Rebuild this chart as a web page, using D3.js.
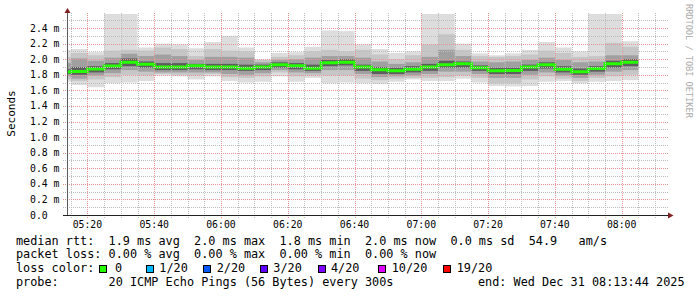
<!DOCTYPE html>
<html><head><meta charset="utf-8">
<script src="https://cdn.jsdelivr.net/npm/d3@7"></script>
<style>
html,body{margin:0;padding:0;background:#fff;}
svg{display:block;}
text{font-family:"DejaVu Sans Mono",monospace;white-space:pre;fill:#000;}
</style></head><body>
<svg id="c" width="697" height="297"></svg>
<script>
// ---- data (ms) ----
const stepEnds = ["05:15","05:20","05:25","05:30","05:35","05:40","05:45","05:50","05:55",
  "06:00","06:05","06:10","06:15","06:20","06:25","06:30","06:35","06:40","06:45","06:50","06:55",
  "07:00","07:05","07:10","07:15","07:20","07:25","07:30","07:35","07:40","07:45","07:50","07:55",
  "08:00","08:05"];
const pingMax = [2.12,2.13,2.09,2.70,2.70,2.15,2.20,2.19,2.14,2.22,2.30,2.15,2.00,2.08,2.09,2.16,2.37,2.36,2.19,2.13,2.08,2.10,2.70,2.70,2.20,2.075,2.05,2.075,2.12,2.22,2.15,2.10,2.70,2.70,2.23];
const pingHi2 = [2.03,2.08,2.05,2.11,2.12,2.11,2.15,2.13,2.04,2.13,2.11,2.10,1.99,2.03,2.05,2.10,2.12,2.10,2.12,2.06,2.00,2.05,2.19,2.32,2.12,2.04,2.03,2.04,2.06,2.11,2.08,2.03,2.04,2.21,2.16];
const pingHiQ = [1.95,2.01,1.98,2.02,2.07,2.04,2.06,2.04,1.99,2.03,2.03,2.02,1.96,1.99,2.00,2.02,2.04,2.04,2.02,1.97,1.94,1.96,2.03,2.12,2.04,1.97,1.96,1.97,1.99,2.02,1.99,1.96,1.97,2.05,2.05];
const pingHiC = [1.87,1.90,1.91,1.95,2.01,1.97,1.95,1.95,1.94,1.94,1.94,1.93,1.93,1.96,1.95,1.93,1.99,2.00,1.93,1.90,1.89,1.91,1.94,1.98,1.97,1.92,1.89,1.89,1.93,1.96,1.91,1.88,1.91,1.98,2.00];
const median  = [1.835,1.842,1.874,1.913,1.96,1.934,1.90,1.90,1.915,1.90,1.90,1.885,1.90,1.93,1.915,1.885,1.955,1.96,1.90,1.865,1.85,1.87,1.90,1.93,1.94,1.89,1.85,1.855,1.90,1.93,1.87,1.84,1.88,1.94,1.96];
const pingLoC = [1.81,1.80,1.83,1.87,1.91,1.89,1.86,1.86,1.87,1.86,1.86,1.85,1.86,1.89,1.87,1.85,1.91,1.92,1.85,1.81,1.81,1.83,1.85,1.89,1.89,1.85,1.81,1.81,1.85,1.88,1.83,1.80,1.84,1.89,1.91];
const pingLoQ = [1.78,1.75,1.79,1.82,1.86,1.84,1.83,1.83,1.83,1.83,1.81,1.80,1.82,1.86,1.83,1.82,1.86,1.86,1.81,1.77,1.78,1.79,1.81,1.84,1.84,1.81,1.76,1.76,1.80,1.83,1.79,1.76,1.80,1.84,1.86];
const pingLo2 = [1.74,1.72,1.74,1.77,1.80,1.79,1.81,1.80,1.79,1.81,1.77,1.76,1.78,1.83,1.78,1.79,1.79,1.79,1.75,1.73,1.75,1.76,1.76,1.77,1.79,1.76,1.69,1.69,1.74,1.78,1.75,1.72,1.76,1.78,1.80];
const pingMin = [1.71,1.668,1.64,1.69,1.70,1.72,1.79,1.78,1.74,1.78,1.72,1.70,1.71,1.78,1.71,1.76,1.69,1.70,1.69,1.68,1.71,1.74,1.72,1.72,1.75,1.70,1.655,1.65,1.655,1.71,1.72,1.69,1.71,1.72,1.73];
const lossCount = [0,0,0,0,0,0,0,0,0,0,0,0,0,0,0,0,0,0,0,0,0,0,0,0,0,0,0,0,0,0,0,0,0,0,0];

const yTickValues = [0,0.2,0.4,0.6,0.8,1.0,1.2,1.4,1.6,1.8,2.0,2.2,2.4];
const yTickLabels = ["0.0","0.2 m","0.4 m","0.6 m","0.8 m","1.0 m","1.2 m","1.4 m","1.6 m","1.8 m","2.0 m","2.2 m","2.4 m"];
const xTickLabels = ["05:20","05:40","06:00","06:20","06:40","07:00","07:20","07:40","08:00"];

const lossLevels = ["0","1/20","2/20","3/20","4/20","10/20","19/20"];
const lossColors = ["#26ff00","#00b8ff","#0059ff","#5e00ff","#7e00ff","#dd00ff","#ff0000"];
const lossThresh = [0,1,2,3,4,10,19];

const legendRtt  = "median rtt:  1.9 ms avg  2.0 ms max  1.8 ms min  2.0 ms now  0.0 ms sd  54.9   am/s";
const legendLoss = "packet loss: 0.00 % avg  0.00 % max  0.00 % min  0.00 % now";
const legendProbe = "probe:       20 ICMP Echo Pings (56 Bytes) every 300s";
const legendEnd = "end: Wed Dec 31 08:13:44 2025";
const dayStr = "2025-12-31";

// ---- layout ----
const svg = d3.select("#c");
const parse = d3.timeParse("%Y-%m-%d %H:%M:%S");
const t0 = parse(dayStr+" 05:13:44"), t1 = parse(dayStr+" 08:13:44");
const x = d3.scaleTime().domain([t0,t1]).range([66.5,667.5]);
const y = d3.scaleLinear().domain([0,2.58]).range([215,14]);
const ends = stepEnds.map(s=>parse(dayStr+" "+s+":00"));
const starts = ends.map(d=>d3.timeMinute.offset(d,-5));

svg.append("rect").attr("width",697).attr("height",297).attr("fill","#fff");
svg.append("clipPath").attr("id","plot").append("rect")
  .attr("x",67).attr("y",14).attr("width",601).attr("height",201);

const gData = svg.append("g").attr("clip-path","url(#plot)");
const bands = [
  {lo:pingMin, hi:pingMax, c:"#dddddd"},
  {lo:pingLo2, hi:pingHi2, c:"#c6c6c6"},
  {lo:pingLoQ, hi:pingHiQ, c:"#a0a0a0"},
  {lo:pingLoC, hi:pingHiC, c:"#5e5e5e"}
];
bands.forEach(b=>{
  gData.append("g").selectAll("rect").data(ends).join("rect")
    .attr("x",(d,i)=>x(starts[i]))
    .attr("width",(d,i)=>x(ends[i])-x(starts[i]))
    .attr("y",(d,i)=>y(b.hi[i]))
    .attr("height",(d,i)=>y(b.lo[i])-y(b.hi[i]))
    .attr("fill",b.c);
});

// ---- grid ----
const gGrid = svg.append("g");
const minorY = d3.range(1,26,2).map(v=>v/10);
gGrid.selectAll(".hm").data(minorY).join("line")
  .attr("x1",63).attr("x2",668).attr("y1",d=>Math.round(y(d))+0.5).attr("y2",d=>Math.round(y(d))+0.5)
  .attr("stroke","#bdbdbd").attr("stroke-dasharray","1,1");
const minorX = d3.timeMinute.every(5).range(t0,t1).filter(d=>d.getMinutes()%20!==0);
gGrid.selectAll(".vm").data(minorX).join("line")
  .attr("y1",13).attr("y2",218).attr("x1",d=>Math.round(x(d))+0.5).attr("x2",d=>Math.round(x(d))+0.5)
  .attr("stroke","#bdbdbd").attr("stroke-dasharray","1,1");
gGrid.selectAll(".hM").data(yTickValues.slice(1)).join("line")
  .attr("x1",63).attr("x2",668).attr("y1",d=>Math.round(y(d))+0.5).attr("y2",d=>Math.round(y(d))+0.5)
  .attr("stroke","#e69494").attr("stroke-dasharray","1,1");
const majorX = xTickLabels.map(s=>parse(dayStr+" "+s+":00"));
gGrid.selectAll(".vM").data(majorX).join("line")
  .attr("y1",13).attr("y2",218).attr("x1",d=>Math.round(x(d))+0.5).attr("x2",d=>Math.round(x(d))+0.5)
  .attr("stroke","#e69494").attr("stroke-dasharray","1,1");

// ---- median line ----
const pts = [];
ends.forEach((d,i)=>{ pts.push([x(starts[i]),y(median[i])]); pts.push([x(ends[i]),y(median[i])]); });
const colorFor = n => { let c = lossColors[0]; lossThresh.forEach((t,j)=>{ if(n>=t) c = lossColors[j]; }); return c; };
gData.append("path").attr("d",d3.line()(pts)).attr("fill","none")
  .attr("stroke",colorFor(lossCount[0])).attr("stroke-width",3);

// ---- axes ----
svg.append("line").attr("x1",67.5).attr("x2",67.5).attr("y1",215).attr("y2",12).attr("stroke","#5a5a5a");
svg.append("line").attr("x1",63).attr("x2",669).attr("y1",215.5).attr("y2",215.5).attr("stroke","#222");
svg.append("path").attr("d","M64.5,13L70.5,13L67.5,8Z").attr("fill","#801f1f");
svg.append("path").attr("d","M668,212.5L668,218.5L673.5,215.5Z").attr("fill","#801f1f");

svg.append("g").selectAll("text").data(yTickValues).join("text")
  .attr("x",30).attr("y",d=>y(d)).attr("dy","0.36em")
  .style("font-size","9.8px").text((d,i)=>yTickLabels[i]);
svg.append("g").selectAll("text").data(majorX).join("text")
  .attr("x",d=>x(d)).attr("y",224).attr("dy","0.36em").attr("text-anchor","middle")
  .style("font-size","9.8px").text((d,i)=>xTickLabels[i]);

svg.append("text").attr("transform","translate(15,113.5) rotate(-90)")
  .attr("text-anchor","middle").style("font-size","11px").text("Seconds");

svg.append("text").attr("transform","translate(685.5,4) rotate(90)")
  .style("font-size","8.6px").style("fill","#ababab").text("RRDTOOL / TOBI OETIKER");

// ---- legend ----
const lf = "11.84px";
svg.append("text").attr("x",16).attr("y",244.5).style("font-size",lf).text(legendRtt);
svg.append("text").attr("x",16).attr("y",258.4).style("font-size",lf).text(legendLoss);
svg.append("text").attr("x",16).attr("y",272.3).style("font-size",lf).text("loss color:");
const boxX = [99, 145.5, 202.5, 259.5, 317.5, 377.5, 442.5];
const txtX = [115, 159.3, 216.7, 273.3, 331, 391.7, 456.7];
const lg = svg.append("g");
lg.selectAll("rect").data(lossLevels).join("rect")
  .attr("x",(d,i)=>Math.round(boxX[i])+0.5).attr("y",265.5).attr("width",7).attr("height",7)
  .attr("fill",(d,i)=>lossColors[i]).attr("stroke","#000").attr("stroke-width",1);
lg.selectAll("text").data(lossLevels).join("text")
  .attr("x",(d,i)=>txtX[i]).attr("y",272.3).style("font-size",lf).text(d=>d);
svg.append("text").attr("x",16).attr("y",286.2).style("font-size",lf).text(legendProbe);
svg.append("text").attr("x",478).attr("y",286.2).style("font-size",lf).text(legendEnd);
</script>
</body></html>
